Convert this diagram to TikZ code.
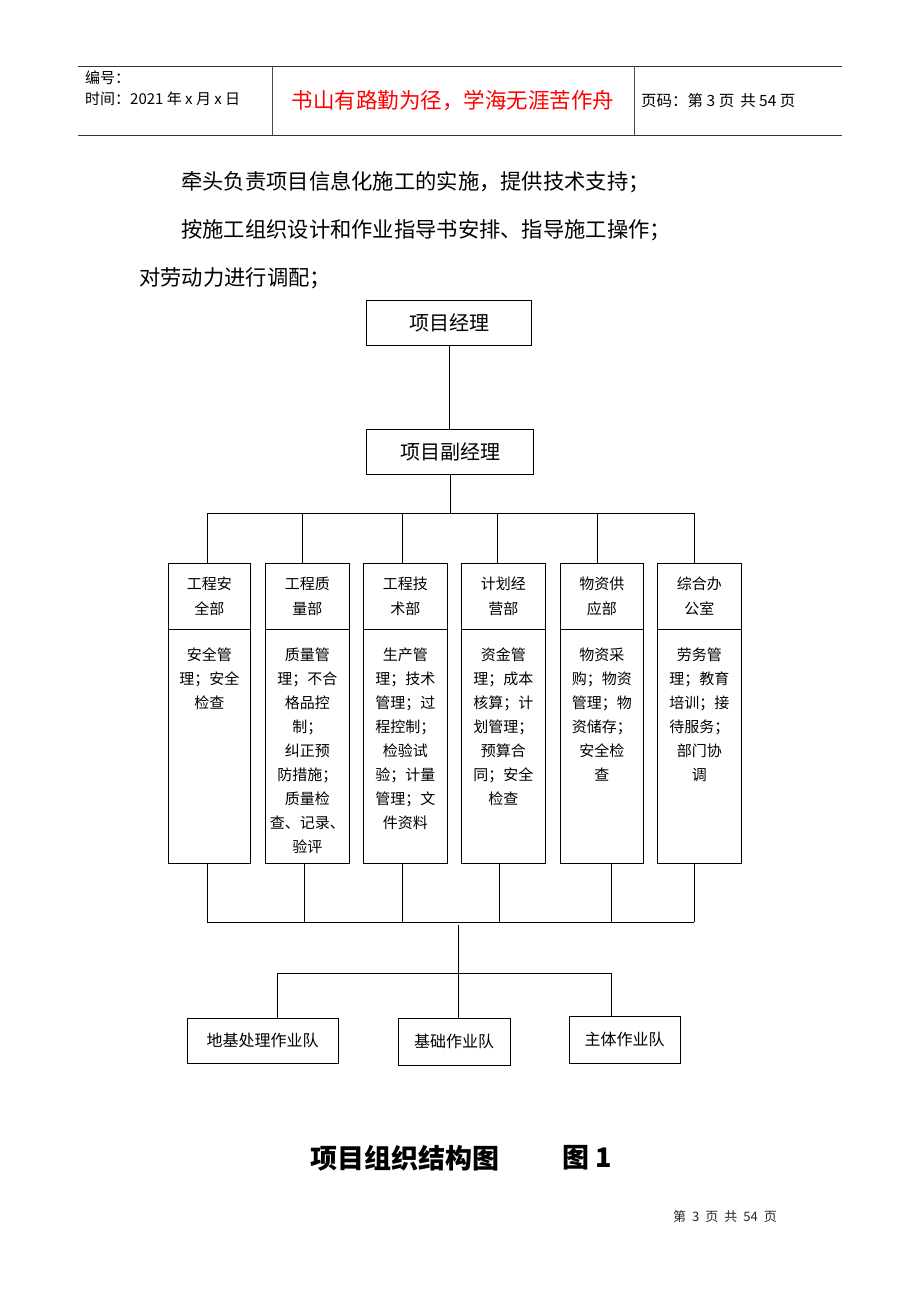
\documentclass[tikz,border=0pt]{standalone}
\usepackage{fontspec}
\setmainfont{Noto Sans CJK SC}
\begin{document}
\begin{tikzpicture}[x=1pt,y=-1pt,
  box/.style={draw,line width=0.9pt,inner sep=0pt},
  ln/.style={line width=0.9pt},
  txt/.style={inner sep=0pt},
  hdr/.style={box,anchor=north west,minimum height=66pt,align=center,font=\fontsize{15}{25}\selectfont},
  bdy/.style={box,anchor=north west,minimum height=234pt},
  btxt/.style={txt,anchor=north,align=center,font=\fontsize{15}{24}\selectfont},
  team/.style={box,font=\fontsize{16}{18}\selectfont},
  mgr/.style={box,minimum width=165pt,minimum height=45pt,font=\fontsize{20}{24}\selectfont}]
\useasboundingbox[fill=white] (0,0) rectangle (920,1302);

% page header
\draw[ln,black!80] (78,66) -- (842,66);
\draw[ln,black!80] (78,135) -- (842,135);
\draw[ln,black!70] (272,66) -- (272,135);
\draw[ln,black!70] (634,66) -- (634,135);
\node[txt,anchor=west,font=\fontsize{15}{18}\selectfont] (bh) at (85,78) {编号：};
\node[txt,anchor=west,font=\fontsize{15}{18}\selectfont] (sj) at (85,99) {时间：2021 年 x 月 x 日};
\node[txt,font=\fontsize{21.5}{24}\selectfont,text=red] (motto) at (453,101) {书山有路勤为径，学海无涯苦作舟};
\node[txt,anchor=west,font=\fontsize{15.5}{18}\selectfont] (ym) at (641,101) {页码：第 3 页\hspace{6pt}共 54 页};

% body text
\node[txt,anchor=west,font=\fontsize{21.3}{24}\selectfont] (l1) at (181,182) {牵头负责项目信息化施工的实施，提供技术支持；};
\node[txt,anchor=west,font=\fontsize{21.3}{24}\selectfont] (l2) at (181,230) {按施工组织设计和作业指导书安排、指导施工操作；};
\node[txt,anchor=west,font=\fontsize{21.3}{24}\selectfont] (l3) at (139,278) {对劳动力进行调配；};

% managers
\node[mgr] (pm) at (449,322.5) {项目经理};
\node[mgr,minimum width=167pt] (vpm) at (450,451.5) {项目副经理};
\draw[ln] (pm.south) -- (pm.south |- vpm.north);

% departments
\foreach \i/\x/\w/\dt/\db/\h/\b in {
 1/168/82/207/207/{工程安\\全部}/{安全管\\理；安全\\检查},
 2/265/84/302/304/{工程质\\量部}/{质量管\\理；不合\\格品控\\制；\\纠正预\\防措施；\\质量检\\查、记录、\\验评},
 3/363/84/402/402/{工程技\\术部}/{生产管\\理；技术\\管理；过\\程控制；\\检验试\\验；计量\\管理；文\\件资料},
 4/461/84/497/499/{计划经\\营部}/{资金管\\理；成本\\核算；计\\划管理；\\预算合\\同；安全\\检查},
 5/560/83/597/611/{物资供\\应部}/{物资采\\购；物资\\管理；物\\资储存；\\安全检\\查},
 6/657/84/694/694/{综合办\\公室}/{劳务管\\理；教育\\培训；接\\待服务；\\部门协\\调}}{
  \node[hdr,minimum width=\w pt] (h\i) at (\x,563) {\h};
  \node[bdy,minimum width=\w pt] (b\i) at (\x,629) {};
  \node[btxt] (t\i) at ([yshift=-19pt]b\i.north) {\b};
  \coordinate (ut\i) at (\dt,513);
  \coordinate (lb\i) at (\db,922);
  \draw[ln] (ut\i) -- (ut\i |- h\i.north);
  \draw[ln] (lb\i |- b\i.south) -- (lb\i);
}
\draw[ln] (vpm.south) -- (vpm.south |- ut1);
\draw[ln] (ut1) -- (ut6);
\draw[ln] (lb1) -- (lb6);

% teams
\node[team,minimum width=151pt,minimum height=45pt] (ta) at (262.5,1040.5) {地基处理作业队};
\node[team,minimum width=112pt,minimum height=47pt] (tb) at (454,1041.5) {基础作业队};
\node[team,minimum width=111pt,minimum height=47pt] (tc) at (624.5,1039.5) {主体作业队};
\coordinate (m1) at (458,925);
\coordinate (ba) at (277,973);
\coordinate (bc) at (611,973);
\draw[ln] (m1) -- (m1 |- tb.north);
\draw[ln] (ba) -- (bc);
\draw[ln] (ba) -- (ba |- ta.north);
\draw[ln] (bc) -- (bc |- tc.north);

% caption
\node[txt,anchor=west,font=\fontsize{27}{30}\selectfont\bfseries] (cap) at (310,1158) {项目组织结构图};
\node[txt,anchor=west,font=\fontsize{27}{30}\selectfont\bfseries] (fig) at (562,1158) {图 1};

% footer
\node[txt,font=\fontsize{13}{15}\selectfont,text=black!85] (ft) at (725,1217) {第\hspace{6pt}3\hspace{6pt}页\hspace{6pt}共\hspace{6pt}54\hspace{6pt}页};
\end{tikzpicture}
\end{document}
